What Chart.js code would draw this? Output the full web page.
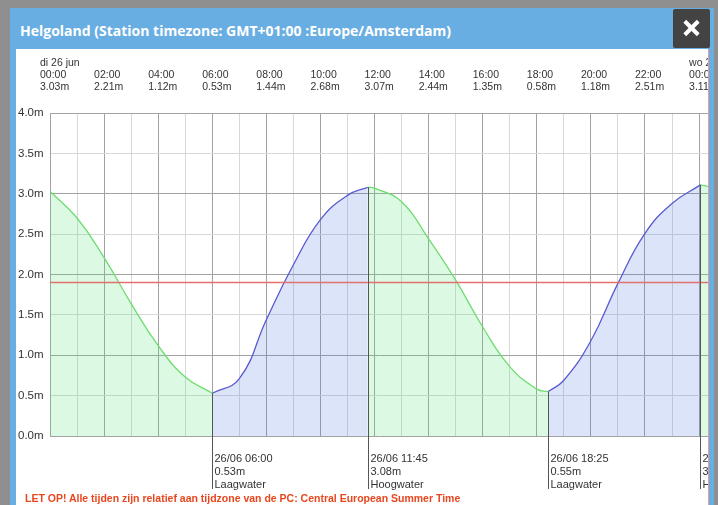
<!DOCTYPE html>
<html>
<head>
<meta charset="utf-8">
<script src="https://cdn.jsdelivr.net/npm/chart.js@4.4.0/dist/chart.umd.min.js"></script>
<style>
  body { margin: 0; width: 718px; height: 505px; background: #8f8f8f; overflow: hidden; position: relative; }
  #venster { position: absolute; left: 10px; top: 8px; width: 704px; height: 510px; background: #69aee2; }
  #titel { position: absolute; left: 10px; top: 2px; color: #fff; font: bold 14px/41px "Open Sans", sans-serif; white-space: nowrap; }
  #sluit { position: absolute; right: 4px; top: 1px; width: 37px; height: 39px; background: #434343; border-radius: 2px; }
  #sluit span { position: absolute; left: 9px; top: 17px; width: 19px; height: 4px; background: #fff; }
  #sluit span.a { transform: rotate(45deg); }
  #sluit span.b { transform: rotate(-45deg); }
  #inhoud { position: absolute; left: 6px; top: 41px; width: 693px; height: 470px; background: #fff; overflow: hidden; }
  #grafiek { position: absolute; left: 0; top: 0; }
  #grens { position: absolute; left: 692px; top: 0; width: 1px; height: 100%; background: #e79b9b; }
  #melding { position: absolute; left: 9px; top: 443px; color: #e8461e; font: bold 10.5px "Liberation Sans", Arial, sans-serif; white-space: nowrap; }
</style>
</head>
<body>
<div id="venster">
  <div id="titel">Helgoland (Station timezone: GMT+01:00 :Europe/Amsterdam)</div>
  <div id="sluit"><span class="a"></span><span class="b"></span></div>
  <div id="inhoud">
    <canvas id="grafiek" width="692" height="456"></canvas>
    <div id="grens"></div>
    <div id="melding">LET OP! Alle tijden zijn relatief aan tijdzone van de PC: Central European Summer Time</div>
  </div>
</div>
<script>
// waterstand per uur (26 jun, uren vanaf 00:00)
var uren   = [0, 1, 2, 3, 4, 5, 6, 7, 8, 9, 10, 11, 11.75, 12, 13, 14, 15, 16, 17, 18, 18.42, 19, 20, 21, 22, 23, 24.05, 24.33];
var hoogte = [3.03, 2.70, 2.21, 1.64, 1.12, 0.73, 0.53, 0.71, 1.44, 2.12, 2.68, 2.98, 3.08, 3.07, 2.90, 2.44, 1.93, 1.35, 0.86, 0.58, 0.55, 0.69, 1.18, 1.89, 2.51, 2.88, 3.11, 3.09];

// kopregel: elke 2 uur
var kopUren   = [0, 2, 4, 6, 8, 10, 12, 14, 16, 18, 20, 22, 24];
var kopHoogte = [3.03, 2.21, 1.12, 0.53, 1.44, 2.68, 3.07, 2.44, 1.35, 0.58, 1.18, 2.51, 3.11];
var kopDatumUur = [0, 24];
var kopDatum    = ['di 26 jun', 'wo 27 jun'];

// hoog- en laagwater
var extremeUur    = [6, 11.75, 18.42, 24.05];
var extremeHoogte = [0.53, 3.08, 0.55, 3.11];
var extremeTijd   = ['26/06 06:00', '26/06 11:45', '26/06 18:25', '27/06 00:03'];
var extremeSoort  = ['Laagwater', 'Hoogwater', 'Laagwater', 'Hoogwater'];

var referentieNiveau = 1.9;
var xMax = 24.33;

// opsplitsen in eb (dalend) en vloed (stijgend)
var eb = [], vloed = [];
for (var i = 0; i < uren.length - 1; i++) {
  var doel = hoogte[i + 1] < hoogte[i] ? eb : vloed;
  var laatste = doel[doel.length - 1];
  if (!laatste || laatste.x !== uren[i] || laatste.y === null) {
    if (doel.length) doel.push({x: uren[i], y: null});
    doel.push({x: uren[i], y: hoogte[i]});
  }
  doel.push({x: uren[i + 1], y: hoogte[i + 1]});
}

var lettertype = '"Liberation Sans", Arial, sans-serif';

var extremenPlugin = {
  id: 'extremen',
  afterDatasetsDraw: function(chart) {
    var ctx = chart.ctx;
    var xs = chart.scales.x, ys = chart.scales.y;
    ctx.save();
    ctx.font = '11px ' + lettertype;
    ctx.fillStyle = '#333';
    ctx.textBaseline = 'middle';
    for (var i = 0; i < extremeUur.length; i++) {
      var x = Math.round(xs.getPixelForValue(extremeUur[i])) + 0.5;
      var y = ys.getPixelForValue(extremeHoogte[i]);
      ctx.strokeStyle = '#555';
      ctx.lineWidth = 1;
      ctx.beginPath();
      ctx.moveTo(x, y);
      ctx.lineTo(x, 440);
      ctx.stroke();
      ctx.fillText(extremeTijd[i], x + 2, 410);
      ctx.fillText(extremeHoogte[i].toFixed(2) + 'm', x + 2, 423);
      ctx.fillText(extremeSoort[i], x + 2, 436);
    }
    ctx.restore();
  }
};

new Chart(document.getElementById('grafiek'), {
  type: 'line',
  data: {
    datasets: [
      {
        data: [{x: 0, y: referentieNiveau}, {x: xMax, y: referentieNiveau}],
        borderColor: '#e36f6f',
        borderWidth: 1.5,
        pointRadius: 0,
        fill: false
      },
      {
        data: eb,
        borderColor: '#6fdc70',
        backgroundColor: 'rgba(80,230,115,0.2)',
        borderWidth: 1.3,
        pointRadius: 0,
        fill: 'origin',
        spanGaps: false,
        tension: 0.45
      },
      {
        data: vloed,
        borderColor: '#5a5ad0',
        backgroundColor: 'rgba(70,110,225,0.19)',
        borderWidth: 1.3,
        pointRadius: 0,
        fill: 'origin',
        spanGaps: false,
        tension: 0.45
      }
    ]
  },
  options: {
    responsive: false,
    animation: false,
    layout: { padding: { left: 2, right: 0, top: 0, bottom: 69 } },
    plugins: { legend: { display: false }, tooltip: { enabled: false } },
    scales: {
      x: {
        type: 'linear',
        position: 'top',
        min: 0,
        max: xMax,
        afterFit: function(s) { s.height = 64; s.paddingLeft = 0; s.paddingRight = 0; },
        grid: {
          drawTicks: false,
          color: function(c) { return c.tick && c.tick.value % 2 === 0 ? '#a2a2a2' : '#d8d8d8'; }
        },
        border: { color: '#a2a2a2' },
        ticks: {
          stepSize: 1,
          autoSkip: false,
          includeBounds: false,
          maxRotation: 0,
          align: 'start',
          labelOffset: -10,
          padding: 20,
          color: '#333',
          font: { family: lettertype, size: 10.5, lineHeight: 1.15 },
          callback: function(v) {
            var k = kopUren.indexOf(v);
            if (k < 0) return '';
            var regels = [];
            var d = kopDatumUur.indexOf(v);
            if (d >= 0) regels.push(kopDatum[d]);
            regels.push(String(v % 24).padStart(2, '0') + ':00');
            regels.push(kopHoogte[k].toFixed(2) + 'm');
            return regels;
          }
        }
      },
      y: {
        min: 0,
        max: 4,
        afterFit: function(s) { s.width = 32; },
        grid: {
          drawTicks: false,
          color: function(c) { return c.tick && c.tick.value % 1 === 0 ? '#a2a2a2' : '#d8d8d8'; }
        },
        border: { color: '#a2a2a2' },
        ticks: {
          stepSize: 0.5,
          crossAlign: 'far',
          color: '#333',
          font: { family: lettertype, size: 11.5 },
          callback: function(v) { return v.toFixed(1) + 'm'; }
        }
      }
    }
  },
  plugins: [extremenPlugin]
});
</script>
</body>
</html>
